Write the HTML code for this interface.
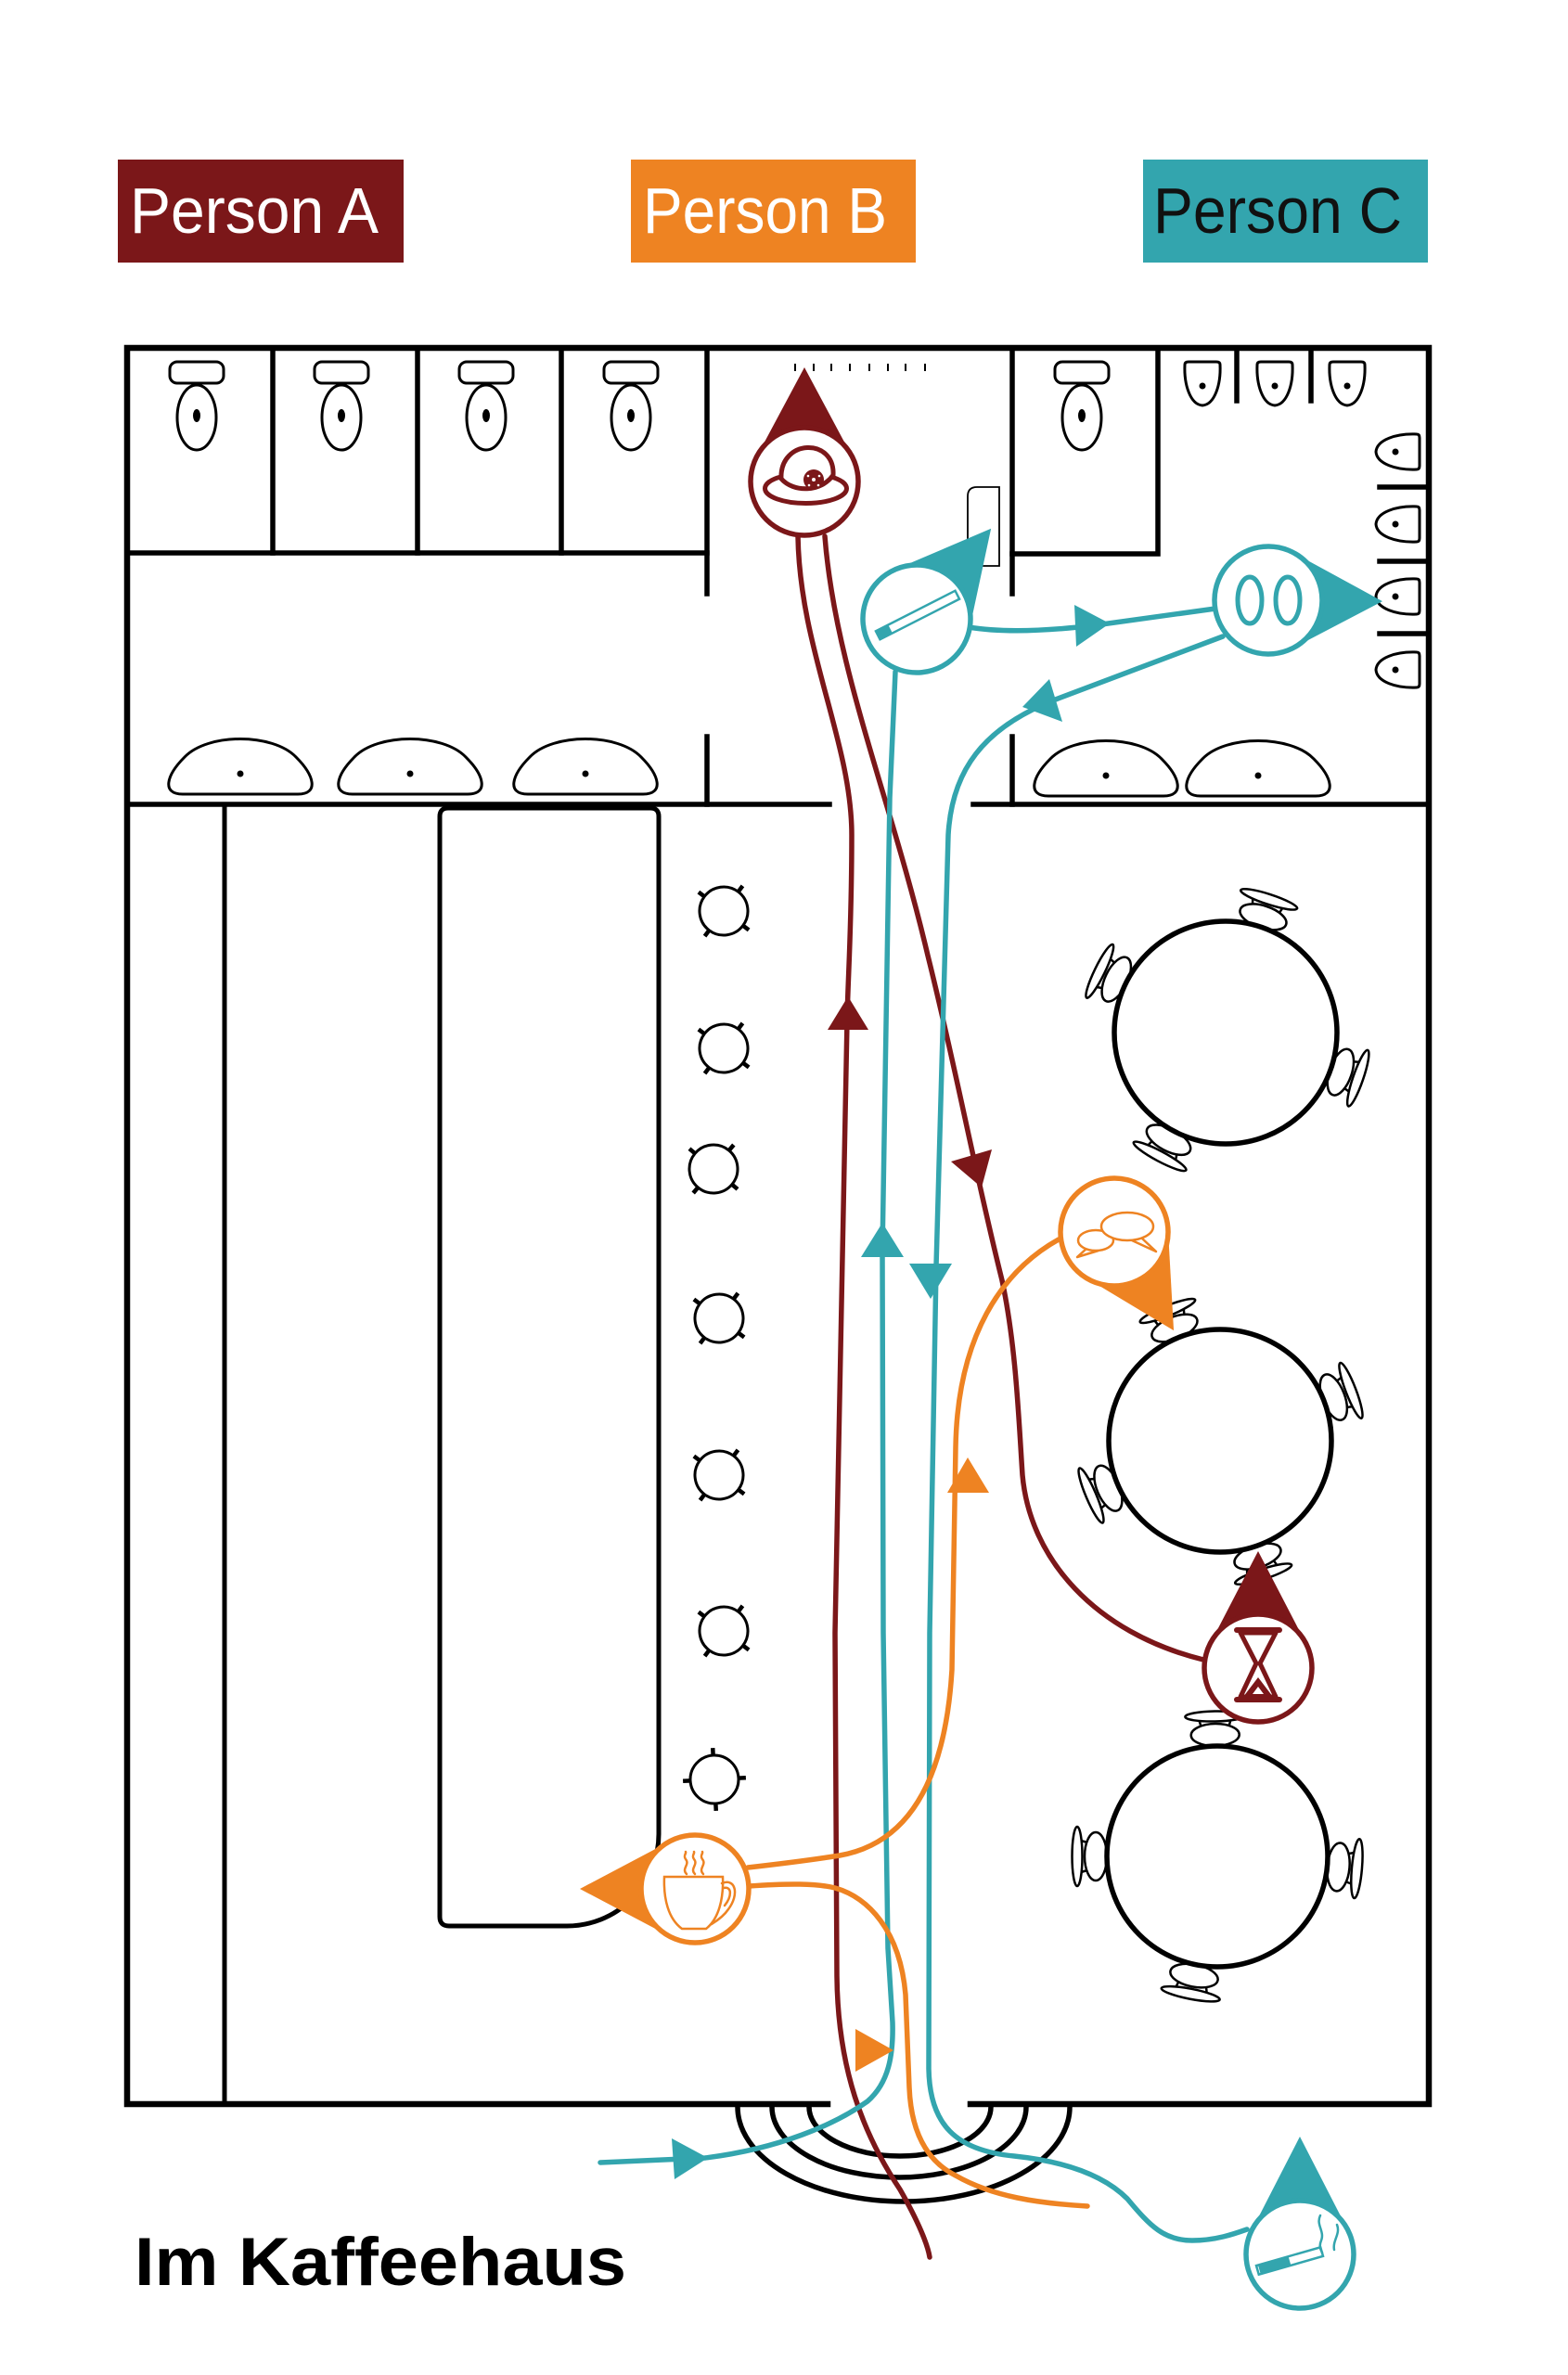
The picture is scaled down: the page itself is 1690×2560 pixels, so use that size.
<!DOCTYPE html>
<html><head><meta charset="utf-8"><style>
html,body{margin:0;padding:0;background:#fff;width:1690px;height:2560px;overflow:hidden}
svg{display:block}
</style></head><body>
<svg width="1690" height="2560" viewBox="0 0 1690 2560" xmlns="http://www.w3.org/2000/svg" font-family="'Liberation Sans', sans-serif">
<defs>
  <g id="chair" fill="#fff" stroke="#000" stroke-width="2.5">
    <path d="M -15 -140 L -17 -147 M 15 -140 L 17 -147" fill="none"/>
    <ellipse cx="0" cy="-131" rx="26" ry="12"/>
    <ellipse cx="0" cy="-151" rx="32" ry="5.5"/>
  </g>
  <g id="stool" fill="#fff" stroke="#000">
    <circle r="26" stroke-width="3"/>
    <path d="M 18 -18 L 24 -24 M -18 -18 L -24 -24 M 18 18 L 24 24 M -18 18 L -24 24" stroke-width="4.5"/>
  </g>
  <g id="toilet" fill="#fff" stroke="#000" stroke-width="3">
    <rect x="-29" y="390" width="58" height="23" rx="8"/>
    <ellipse cx="0" cy="450" rx="21" ry="35"/>
    <ellipse cx="0" cy="448" rx="4" ry="7" fill="#000" stroke="none"/>
  </g>
  <g id="urinal" fill="#fff" stroke="#000" stroke-width="3">
    <path d="M -19 -20 Q -19 -23 -15 -23 L 15 -23 Q 19 -23 19 -20 C 20 2 13 23 0 24 C -13 23 -20 2 -19 -20 Z"/>
    <circle cx="0" cy="3" r="3.5" fill="#000" stroke="none"/>
  </g>
  <g id="sink" fill="#fff" stroke="#000" stroke-width="3">
    <path d="M -62 0 C -85 0 -80 -20 -60 -40 C -35 -66 35 -66 60 -40 C 80 -20 85 0 62 0 Z"/>
    <circle cx="0" cy="-22" r="3.5" fill="#000" stroke="none"/>
  </g>
</defs>

<!-- Labels -->
<rect x="127" y="172" width="308" height="111" fill="#7B1719"/>
<text x="140" y="251" font-size="70" fill="#fff" textLength="268" lengthAdjust="spacingAndGlyphs">Person A</text>
<rect x="680" y="172" width="307" height="111" fill="#EE8322"/>
<text x="693" y="251" font-size="70" fill="#fff" textLength="263" lengthAdjust="spacingAndGlyphs">Person B</text>
<rect x="1232" y="172" width="307" height="111" fill="#33A5AE"/>
<text x="1243" y="251" font-size="70" fill="#111" textLength="268" lengthAdjust="spacingAndGlyphs">Person C</text>

<!-- Walls -->
<g fill="none" stroke="#000" stroke-linecap="square">
  <path d="M 892 2268 L 137 2268 L 137 375 L 1540 375 L 1540 2268 L 1046 2268" stroke-width="6.5"/>
  <g stroke-width="5.5">
    <path d="M 137 596 H 762"/>
    <path d="M 294 375 V 596 M 450 375 V 596 M 605 375 V 596"/>
    <path d="M 762 375 V 640 M 762 794 V 867"/>
    <path d="M 137 867 H 894 M 1049 867 H 1540"/>
    <path d="M 1091 375 V 640 M 1091 794 V 867"/>
    <path d="M 1091 597 H 1248 V 375"/>
    <path d="M 1333 375 V 432 M 1413 375 V 432"/>
    <path d="M 1487 525 H 1540 M 1487 605 H 1540 M 1487 683 H 1540"/>
  </g>
  <path d="M 242 867 V 2268" stroke-width="5"/>
  <path d="M 474 2066 L 474 880 Q 474 871 483 871 L 701 871 Q 710 871 710 880 L 710 1977 A 99 99 0 0 1 611 2076 L 484 2076 Q 474 2076 474 2066 Z" stroke-width="5"/>
</g>

<!-- Hatch ticks -->
<path d="M 857 392 V 400 M 877 392 V 400 M 896 392 V 400 M 916 392 V 400 M 937 392 V 400 M 957 392 V 400 M 976 392 V 400 M 997 392 V 400" stroke="#000" stroke-width="2"/>
<!-- Door -->
<path d="M 1043 610 V 535 Q 1043 525 1053 525 H 1077 V 610 Z" fill="#fff" stroke="#000" stroke-width="1.8"/>

<!-- Toilets -->
<use href="#toilet" transform="translate(212 0)"/>
<use href="#toilet" transform="translate(368 0)"/>
<use href="#toilet" transform="translate(524 0)"/>
<use href="#toilet" transform="translate(680 0)"/>
<use href="#toilet" transform="translate(1166 0)"/>

<!-- Urinals -->
<use href="#urinal" transform="translate(1296 413)"/>
<use href="#urinal" transform="translate(1374 413)"/>
<use href="#urinal" transform="translate(1452 413)"/>
<use href="#urinal" transform="translate(1507 487) rotate(90)"/>
<use href="#urinal" transform="translate(1507 565) rotate(90)"/>
<use href="#urinal" transform="translate(1507 643) rotate(90)"/>
<use href="#urinal" transform="translate(1507 722) rotate(90)"/>

<!-- Sinks -->
<use href="#sink" transform="translate(259 856)"/>
<use href="#sink" transform="translate(442 856)"/>
<use href="#sink" transform="translate(631 856)"/>
<use href="#sink" transform="translate(1192 858)"/>
<use href="#sink" transform="translate(1356 858)"/>

<!-- Stools -->
<use href="#stool" transform="translate(780 982) rotate(-8)"/>
<use href="#stool" transform="translate(780 1130) rotate(-8)"/>
<use href="#stool" transform="translate(769 1260) rotate(-5)"/>
<use href="#stool" transform="translate(775 1421) rotate(-8)"/>
<use href="#stool" transform="translate(775 1590) rotate(-8)"/>
<use href="#stool" transform="translate(780 1758) rotate(-8)"/>
<use href="#stool" transform="translate(770 1918) rotate(42)"/>

<!-- Chairs -->
<use href="#chair" transform="translate(1321 1113) rotate(18)"/>
<use href="#chair" transform="translate(1321 1113) rotate(-64)"/>
<use href="#chair" transform="translate(1321 1113) rotate(109)"/>
<use href="#chair" transform="translate(1321 1113) rotate(208)"/>
<use href="#chair" transform="translate(1315 1553) rotate(-22)"/>
<use href="#chair" transform="translate(1315 1553) rotate(69)"/>
<use href="#chair" transform="translate(1315 1553) rotate(247)"/>
<use href="#chair" transform="translate(1315 1553) rotate(162)"/>
<use href="#chair" transform="translate(1312 2001) rotate(-1)"/>
<use href="#chair" transform="translate(1312 2001) rotate(270)"/>
<use href="#chair" transform="translate(1312 2001) rotate(95)"/>
<use href="#chair" transform="translate(1312 2001) rotate(191)"/>

<!-- Tables -->
<g fill="#fff" stroke="#000" stroke-width="5.5">
  <circle cx="1321" cy="1113" r="120"/>
  <circle cx="1315" cy="1553" r="120"/>
  <circle cx="1312" cy="2001" r="119"/>
</g>

<!-- Door arcs -->
<g fill="none" stroke="#000" stroke-width="5.5">
  <path d="M 872 2271 A 98 53 0 0 0 1068 2271"/>
  <path d="M 832 2271 A 137 76 0 0 0 1106 2271"/>
  <path d="M 795 2271 A 179 102 0 0 0 1153 2271"/>
</g>

<!-- Paths -->
<g fill="none" stroke-width="5.5" stroke-linecap="round" stroke-linejoin="round">
  <!-- red -->
  <path stroke="#7B1719" d="M 860 578 C 862 700 918 800 918 900 C 918 1000 914 1050 913 1100 L 900 1760 L 902 2130 C 903 2230 930 2300 970 2360 C 990 2395 1000 2420 1002 2433"/>
  <path stroke="#7B1719" d="M 889 578 C 900 720 960 860 1000 1030 C 1030 1150 1050 1260 1080 1380 C 1095 1450 1098 1530 1102 1590 C 1110 1680 1180 1760 1297 1789"/>
  <!-- teal -->
  <path stroke="#33A5AE" d="M 647 2331 L 760 2326 C 840 2316 900 2290 935 2265 C 958 2245 963 2215 962 2180 L 957 2100 L 952 1760 L 951 1350 L 959 860 L 965 724"/>
  <path stroke="#33A5AE" d="M 1044 676 C 1080 682 1130 680 1180 674 L 1310 656"/>
  <path stroke="#33A5AE" d="M 1318 686 L 1135 755 C 1060 785 1026 830 1022 900 L 1009 1365 L 1002 1760 L 1001 2230 C 1002 2290 1030 2318 1093 2324 C 1150 2330 1190 2345 1215 2370 C 1240 2400 1255 2415 1285 2415 C 1310 2415 1330 2408 1344 2403"/>
  <!-- orange -->
  <path stroke="#EE8322" d="M 806 2013 C 850 2008 880 2004 905 2000 C 990 1985 1020 1900 1026 1800 L 1030 1560 C 1032 1440 1080 1370 1141 1336"/>
  <path stroke="#EE8322" d="M 807 2033 C 850 2030 880 2030 900 2035 C 935 2045 970 2080 976 2150 L 980 2250 C 982 2300 1000 2330 1030 2345 C 1070 2368 1120 2375 1172 2378"/>
</g>

<!-- Arrowheads -->
<polygon points="914,1074 936,1110 892,1110" fill="#7B1719"/>
<polygon points="1058,1280 1025,1252 1069,1239" fill="#7B1719"/>
<polygon points="724,2305 763,2326 727,2349" fill="#33A5AE"/>
<polygon points="951,1318 974,1355 928,1355" fill="#33A5AE"/>
<polygon points="1003,1400 980,1362 1026,1362" fill="#33A5AE"/>
<polygon points="1158,652 1196,672 1160,697" fill="#33A5AE"/>
<polygon points="1102,762 1131,732 1145,778" fill="#33A5AE"/>
<polygon points="1043,1571 1066,1609 1021,1609" fill="#EE8322"/>
<polygon points="922,2187 963,2210 922,2233" fill="#EE8322"/>

<!-- Markers -->
<g transform="translate(867 519)"><polygon points="0,-123 51.3,-27 0,0 -51.3,-27" fill="#7B1719"/><circle r="58" fill="#fff" stroke="#7B1719" stroke-width="5.5"/></g>
<g transform="translate(988 667) rotate(39.5)"><polygon points="0,-126 51.3,-27 0,0 -51.3,-27" fill="#33A5AE"/><circle r="58" fill="#fff" stroke="#33A5AE" stroke-width="5.5"/></g>
<g transform="translate(1367 647) rotate(90.5)"><polygon points="0,-123 51.3,-27 0,0 -51.3,-27" fill="#33A5AE"/><circle r="58" fill="#fff" stroke="#33A5AE" stroke-width="5.5"/></g>
<g transform="translate(1201 1328) rotate(148.9)"><polygon points="0,-124 51.3,-27 0,0 -51.3,-27" fill="#EE8322"/><circle r="58" fill="#fff" stroke="#EE8322" stroke-width="5.5"/></g>
<g transform="translate(1356 1798)"><polygon points="0,-126 51.3,-27 0,0 -51.3,-27" fill="#7B1719"/><circle r="58" fill="#fff" stroke="#7B1719" stroke-width="5.5"/></g>
<g transform="translate(1401 2430)"><polygon points="0,-127 51.3,-27 0,0 -51.3,-27" fill="#33A5AE"/><circle r="58" fill="#fff" stroke="#33A5AE" stroke-width="5.5"/></g>
<g transform="translate(749 2036) rotate(-90)"><polygon points="0,-124 51.3,-27 0,0 -51.3,-27" fill="#EE8322"/><circle r="58" fill="#fff" stroke="#EE8322" stroke-width="5.5"/></g>

<!-- Hat icon -->
<g transform="translate(867 519)" fill="none" stroke="#7B1719" stroke-width="5">
  <ellipse cx="1.5" cy="7.5" rx="44" ry="16"/>
  <path d="M -25 -3 C -27 -46 33 -48 31 -7 C 18 12 -12 12 -25 -3 Z" fill="#fff"/>
  <circle cx="10" cy="-2" r="11" fill="#7B1719" stroke="none"/>
  <circle cx="10" cy="-2" r="2" fill="#fff" stroke="none"/>
  <circle cx="4" cy="-6" r="1.3" fill="#fff" stroke="none"/>
  <circle cx="16" cy="-6" r="1.3" fill="#fff" stroke="none"/>
  <circle cx="5" cy="4" r="1.3" fill="#fff" stroke="none"/>
  <circle cx="15" cy="4" r="1.3" fill="#fff" stroke="none"/>
</g>

<!-- Cigarette top icon -->
<g transform="translate(989 663) rotate(-27)">
  <rect x="-48" y="-5" width="96" height="10" fill="#fff" stroke="#33A5AE" stroke-width="2.5"/>
  <rect x="-48" y="-5" width="15" height="10" fill="#33A5AE"/>
</g>

<!-- 00 icon -->
<g fill="none" stroke="#33A5AE" stroke-width="5">
  <ellipse cx="1347" cy="647" rx="13" ry="25"/>
  <ellipse cx="1388" cy="647" rx="13" ry="25"/>
</g>

<!-- Speech icon -->
<g fill="#fff" stroke="#EE8322" stroke-width="2.5" stroke-linejoin="round">
  <path d="M 1172 1345 L 1161 1355 L 1184 1348"/>
  <ellipse cx="1181" cy="1337" rx="19" ry="11"/>
  <path d="M 1230 1334 L 1246 1349 L 1220 1337"/>
  <ellipse cx="1215" cy="1322" rx="28" ry="15"/>
</g>

<!-- Coffee icon -->
<g transform="translate(749 2036)" fill="none" stroke="#EE8322" stroke-width="2.5" stroke-linecap="round">
  <path d="M -33 -13 L 30 -13 C 31 10 26 32 12 43 L -14 43 C -29 32 -34 10 -33 -13 Z"/>
  <path d="M 29 -6 C 44 -12 48 6 36 22 C 32 28 26 33 18 38"/>
  <path d="M 31 -1 C 40 -3 40 8 32 18"/>
  <path d="M -9 -16 C -15 -22 -5 -26 -10 -32 C -13 -36 -9 -38 -10 -40"/>
  <path d="M 0 -16 C -6 -22 4 -26 -1 -32 C -4 -36 0 -38 -1 -40"/>
  <path d="M 9 -16 C 3 -22 13 -26 8 -32 C 5 -36 9 -38 8 -40"/>
</g>

<!-- Hourglass icon -->
<g transform="translate(1356 1798)" stroke="#7B1719" stroke-linejoin="round" stroke-linecap="round">
  <path d="M -19 -38 L 19 -38 L 2 -5 L 19 31 L -19 31 L -2 -5 Z" fill="#fff" stroke-width="5"/>
  <line x1="-23" y1="-41" x2="23" y2="-41" stroke-width="6"/>
  <line x1="-23" y1="34" x2="23" y2="34" stroke-width="6"/>
  <polygon points="0,10 -16,31 16,31" fill="#7B1719" stroke="none"/>
  <polygon points="0,20 -6,28 6,28" fill="#fff" stroke="none"/>
</g>

<!-- Cigarette bottom icon -->
<g transform="translate(1390 2437) rotate(-16)">
  <rect x="-36" y="-5" width="72" height="10" fill="#fff" stroke="#33A5AE" stroke-width="2.5"/>
  <rect x="-34" y="-5" width="34" height="10" fill="#33A5AE"/>
</g>
<g fill="none" stroke="#33A5AE" stroke-width="2.5" stroke-linecap="round">
  <path d="M 1423 2388 C 1418 2398 1428 2405 1424 2415 C 1421 2422 1424 2426 1425 2428"/>
  <path d="M 1441 2398 C 1445 2408 1436 2415 1438 2425"/>
</g>

<!-- Title -->
<text x="145" y="2463" font-size="73" font-weight="bold" fill="#000" textLength="530" lengthAdjust="spacingAndGlyphs">Im Kaffeehaus</text>
</svg>
</body></html>
